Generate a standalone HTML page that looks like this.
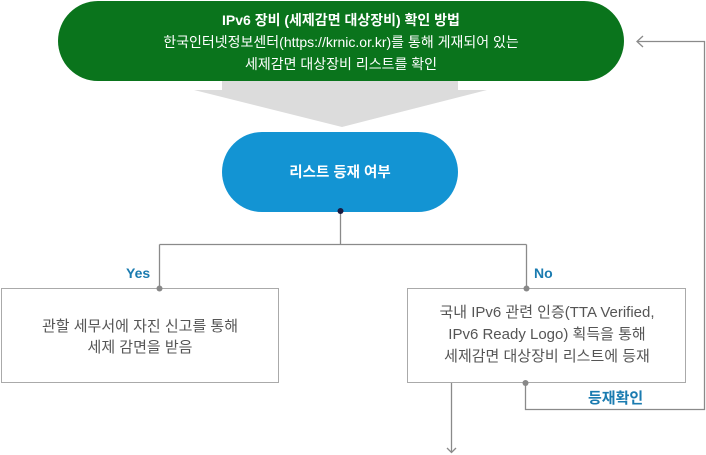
<!DOCTYPE html>
<html><head><meta charset="utf-8"><style>
html,body{margin:0;padding:0;background:#fff;}
body{width:706px;height:455px;position:relative;overflow:hidden;font-family:"Liberation Sans","Noto Sans CJK KR",sans-serif;}
.t{position:absolute;text-align:center;white-space:nowrap;}
</style></head><body>
<svg width="706" height="455" style="position:absolute;left:0;top:0">
<polygon points="222,70 458,70 458,90 487,90 342,127 194,90 222,90" fill="#dcdcdc"/>
<rect x="58" y="1" width="566" height="80" rx="40" fill="#0a741c"/>
<rect x="222" y="132" width="236" height="80" rx="40" fill="#1394d3"/>
<g stroke="#8a8a8a" stroke-width="1.3" fill="none">
<path d="M340.5 211 V244.5 M159.5 244.5 H526.5 M159.5 244.5 V288 M526.5 244.5 V288"/>
<path d="M525.5 383 V409.5 H704.5 V41.5 H637"/>
<path d="M643 36 L637 41.5 L643 47"/>
<path d="M451.5 383 V452"/>
<path d="M447 448 L451.5 452.5 L456 448"/>
</g>
<rect x="1.5" y="288.5" width="277" height="94" fill="#fff" stroke="#aaa"/>
<rect x="407.5" y="288.5" width="278" height="94" fill="#fff" stroke="#aaa"/>
<circle cx="340.5" cy="211" r="3" fill="#1a1a40"/>
<circle cx="159.5" cy="288.5" r="3" fill="#888"/>
<circle cx="526.5" cy="288.5" r="3" fill="#888"/>
<circle cx="525.5" cy="383" r="3" fill="#888"/>
</svg>
<div class="t" style="left:58px;width:566px;top:9px;color:#fff;font-size:14px;line-height:22px;"><b>IPv6 장비 (세제감면 대상장비) 확인 방법</b><br>한국인터넷정보센터(https://krnic.or.kr)를 통해 게재되어 있는<br>세제감면 대상장비 리스트를 확인</div>
<div class="t" style="left:222px;width:236px;top:161px;color:#fff;font-size:14.5px;font-weight:bold;">리스트 등재 여부</div>
<div class="t" style="left:126px;top:265px;color:#1a7bb0;font-size:14px;font-weight:bold;">Yes</div>
<div class="t" style="left:534px;top:265px;color:#1a7bb0;font-size:14px;font-weight:bold;">No</div>
<div class="t" style="left:1px;width:278px;top:316px;color:#555;font-size:15px;line-height:21px;">관할 세무서에 자진 신고를 통해<br>세제 감면을 받음</div>
<div class="t" style="left:408px;width:278px;top:302px;color:#555;font-size:15px;line-height:22px;">국내 IPv6 관련 인증(TTA Verified,<br>IPv6 Ready Logo) 획득을 통해<br>세제감면 대상장비 리스트에 등재</div>
<div class="t" style="left:588px;top:387px;color:#1a7bb0;font-size:15px;font-weight:bold;">등재확인</div>
</body></html>
